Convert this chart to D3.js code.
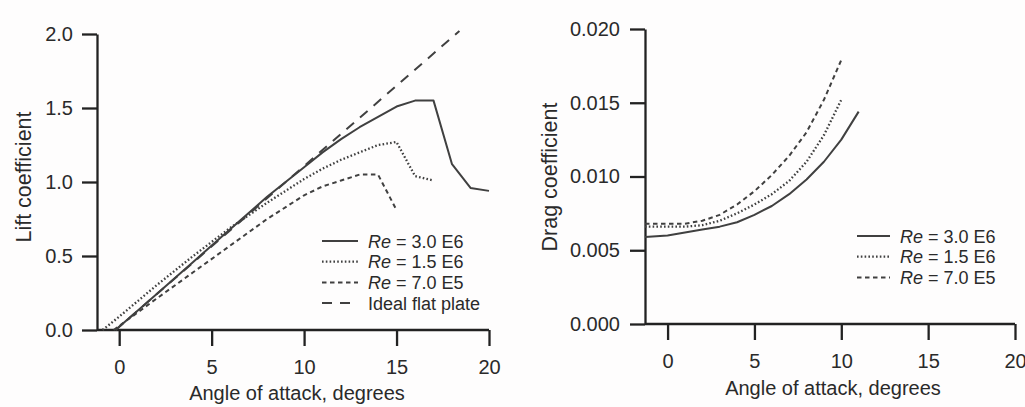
<!DOCTYPE html>
<html>
<head>
<meta charset="utf-8">
<script src="https://cdn.jsdelivr.net/npm/d3@7"></script>
<style>
  body { margin: 0; background: #fff; }
  svg { display: block; }
  text { font-family: "Liberation Sans", Arial, sans-serif; fill: #2a2a2a; }
</style>
</head>
<body>
<div id="figure"></div>
<script>
// --- data ---

// lift coefficient vs angle of attack
var liftRe30E6x = [-0.2, 2, 4, 6, 8, 10, 11, 12, 13, 14, 15, 16, 17, 18, 19, 20];
var liftRe30E6y = [0, 0.24, 0.46, 0.68, 0.9, 1.1, 1.2, 1.29, 1.37, 1.44, 1.51, 1.55, 1.55, 1.12, 0.96, 0.94];

var liftRe15E6x = [-0.9, 0, 2, 4, 6, 8, 10, 11, 12, 13, 14, 15, 16, 17];
var liftRe15E6y = [0, 0.09, 0.3, 0.5, 0.69, 0.86, 1.02, 1.09, 1.15, 1.2, 1.25, 1.27, 1.04, 1.01];

var liftRe70E5x = [-0.3, 2, 4, 6, 8, 10, 11, 12, 13, 14, 15];
var liftRe70E5y = [0, 0.21, 0.39, 0.57, 0.75, 0.91, 0.97, 1.01, 1.05, 1.05, 0.81];

var flatPlateX = [-0.2, 18.4];
var flatPlateY = [0, 2.02];

// drag coefficient vs angle of attack
var dragRe30E6x = [-1.3, 0, 1, 2, 3, 4, 5, 6, 7, 8, 9, 10, 11];
var dragRe30E6y = [0.0059, 0.0060, 0.0062, 0.0064, 0.0066, 0.0069, 0.0074, 0.0080, 0.0088, 0.0098, 0.0110, 0.0125, 0.0144];

var dragRe15E6x = [-1.3, 0, 1, 2, 3, 4, 5, 6, 7, 8, 9, 10];
var dragRe15E6y = [0.0066, 0.0066, 0.0066, 0.0067, 0.0070, 0.0075, 0.0081, 0.0088, 0.0097, 0.0110, 0.0128, 0.0152];

var dragRe70E5x = [-1.3, 0, 1, 2, 3, 4, 5, 6, 7, 8, 9, 10];
var dragRe70E5y = [0.0068, 0.0068, 0.0068, 0.0070, 0.0074, 0.0081, 0.0090, 0.0101, 0.0114, 0.0130, 0.0152, 0.0179];

var xTicks = [0, 5, 10, 15, 20];
var liftTicks = [0, 0.5, 1.0, 1.5, 2.0];
var dragTicks = [0, 0.005, 0.010, 0.015, 0.020];

var reLabels = ["3.0 E6", "1.5 E6", "7.0 E5"];

// line styles
var dashes = ["none", "1.6,2.2", "4.5,3.5", "10,8"];
var lineColor = "#404040";
var axisColor = "#222";

var width = 1025, height = 407;

var svg = d3.select("#figure").append("svg")
    .attr("width", width)
    .attr("height", height);

svg.append("rect")
    .attr("width", width)
    .attr("height", height)
    .attr("fill", "#fefdfd");

function zip(xs, ys) {
  return xs.map(function(x, i) { return [x, ys[i]]; });
}

function drawPanel(opt) {
  var x = d3.scaleLinear().domain(opt.xDomain).range(opt.xRange);
  var y = d3.scaleLinear().domain(opt.yDomain).range(opt.yRange);

  var xAxis = svg.append("g")
      .attr("transform", "translate(0," + opt.yRange[0] + ")")
      .call(d3.axisBottom(x).tickValues(xTicks).tickSize(16).tickSizeOuter(0)
        .tickPadding(14).tickFormat(d3.format("d")));

  var yAxis = svg.append("g")
      .attr("transform", "translate(" + opt.xRange[0] + ",0)")
      .call(d3.axisLeft(y).tickValues(opt.yTicks).tickSize(15).tickSizeOuter(0)
        .tickPadding(opt.yPad).tickFormat(d3.format(opt.yFormat)));

  [xAxis, yAxis].forEach(function(g) {
    g.selectAll("path, line").attr("stroke", axisColor).attr("stroke-width", 2.3);
    g.selectAll("text").attr("font-size", 20).attr("fill", "#2a2a2a")
      .style("font-family", "'Liberation Sans', Arial, sans-serif");
  });
  // the x axis domain starts at the y axis; the 0 tick on y continues it left
  xAxis.select(".domain").attr("d", "M" + opt.xRange[0] + ",0H" + opt.xRange[1]);

  var line = d3.line()
      .x(function(d) { return x(d[0]); })
      .y(function(d) { return y(d[1]); });

  opt.series.forEach(function(s, i) {
    svg.append("path")
        .datum(s)
        .attr("d", line)
        .attr("fill", "none")
        .attr("stroke", lineColor)
        .attr("stroke-width", i === 1 ? 2.3 : 2)
        .attr("stroke-dasharray", dashes[i])
        .attr("stroke-linejoin", "round");
  });

  // axis titles
  svg.append("text")
      .attr("x", opt.xTitlePos[0])
      .attr("y", opt.xTitlePos[1])
      .attr("text-anchor", "middle")
      .attr("font-size", 20)
      .text("Angle of attack, degrees");

  svg.append("text")
      .attr("transform", "translate(" + opt.yTitlePos[0] + "," + opt.yTitlePos[1] + ") rotate(-90)")
      .attr("text-anchor", "middle")
      .attr("font-size", 21.5)
      .text(opt.yTitle);

  // legend
  var leg = svg.append("g")
      .attr("transform", "translate(" + opt.legendPos[0] + "," + opt.legendPos[1] + ")");

  opt.legend.forEach(function(lab, i) {
    var row = leg.append("g").attr("transform", "translate(0," + (i * 20.7) + ")");
    row.append("line")
        .attr("x1", 0).attr("x2", opt.legendLineLen)
        .attr("y1", 0).attr("y2", 0)
        .attr("stroke", lineColor)
        .attr("stroke-width", i === 1 ? 2.3 : 2)
        .attr("stroke-dasharray", dashes[i]);
    var t = row.append("text")
        .attr("x", opt.legendLineLen + 10)
        .attr("y", 6.5)
        .attr("font-size", 18);
    if (i < 3) {
      t.append("tspan").attr("font-style", "italic").text("Re");
      t.append("tspan").text(" = " + lab);
    } else {
      t.text(lab);
    }
  });
}

drawPanel({
  xDomain: [-1.2, 20], xRange: [97, 489],
  yDomain: [0, 2], yRange: [330, 34],
  yTicks: liftTicks, yFormat: ".1f", yPad: 9,
  series: [zip(liftRe30E6x, liftRe30E6y), zip(liftRe15E6x, liftRe15E6y),
           zip(liftRe70E5x, liftRe70E5y), zip(flatPlateX, flatPlateY)],
  xTitlePos: [297, 400],
  yTitlePos: [31, 177],
  yTitle: "Lift coefficient",
  legend: reLabels.concat(["Ideal flat plate"]),
  legendPos: [322, 241],
  legendLineLen: 36
});

drawPanel({
  xDomain: [-1.3, 20], xRange: [645, 1015],
  yDomain: [0, 0.02], yRange: [324, 29],
  yTicks: dragTicks, yFormat: ".3f", yPad: 10,
  series: [zip(dragRe30E6x, dragRe30E6y), zip(dragRe15E6x, dragRe15E6y),
           zip(dragRe70E5x, dragRe70E5y)],
  xTitlePos: [833, 395],
  yTitlePos: [557, 177],
  yTitle: "Drag coefficient",
  legend: reLabels,
  legendPos: [857, 236],
  legendLineLen: 33
});
</script>
</body>
</html>
